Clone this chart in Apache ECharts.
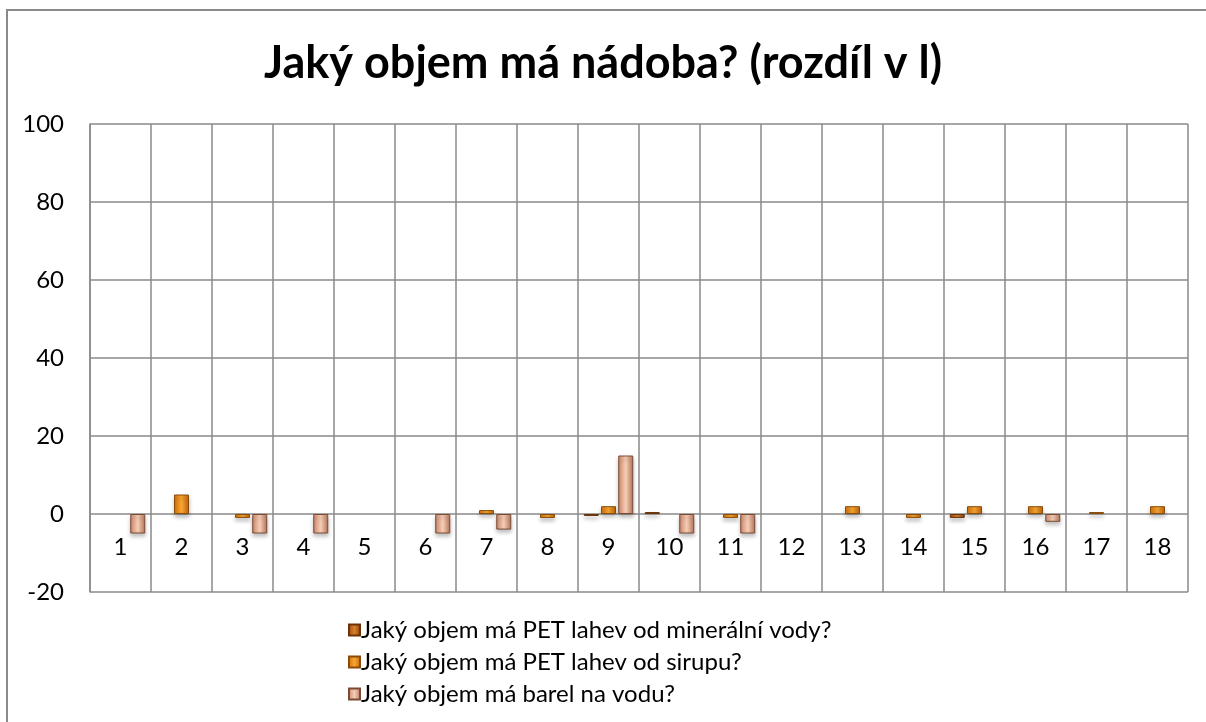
<!DOCTYPE html>
<html>
<head>
<meta charset="utf-8">
<script src="https://cdn.jsdelivr.net/npm/echarts@6/dist/echarts.min.js"></script>
<style>
    html, body { margin: 0; padding: 0; background: #fff; }
    #chart { width: 1206px; height: 722px; }
</style>
</head>
<body>
<div id="chart"></div>
<script>
    // data (null = no bar drawn)
    var categories = ['1','2','3','4','5','6','7','8','9','10','11','12','13','14','15','16','17','18']
    var mineralka = [null, null, null, null, null, null, null, null, -0.5, 0.5, null, null, null, null, -1, null, null, null]
    var sirup = [null, 5, -1, null, null, null, 1, -1, 2, null, -1, null, 2, -1, 2, 2, 0.5, 2]
    var barel = [-5, null, -5, -5, null, -5, -4, null, 15, -5, -5, null, null, null, null, -2, null, null]
    var yTicks = { min: -20, max: 100, interval: 20 }
    var names = [
        'Jaký objem má PET lahev od minerální vody?',
        'Jaký objem má PET lahev od sirupu?',
        'Jaký objem má barel na vodu?'
    ]

    var font = 'Lato, "Open Sans", sans-serif'

    function grad(edge, mid, edge2) {
        return new echarts.graphic.LinearGradient(0, 0, 1, 0, [
            { offset: 0, color: edge },
            { offset: 0.5, color: mid },
            { offset: 1, color: edge2 }
        ])
    }

    function barSeries(name, data, fill, border) {
        return {
            name: name,
            type: 'bar',
            data: data,
            barWidth: 15,
            barGap: '15%',
            itemStyle: {
                color: fill,
                borderColor: border,
                borderWidth: 1,
                shadowBlur: 4,
                shadowOffsetY: 3,
                shadowColor: 'rgba(0,0,0,0.25)'
            }
        }
    }

    var chart = echarts.init(document.getElementById('chart'))
    var option = {
        animation: false,
        textStyle: { fontFamily: font },
        title: {
            text: 'Jaký objem má nádoba? (rozdíl v l)',
            left: 'center',
            top: 36,
            textStyle: { fontFamily: font, fontSize: 45, fontWeight: 'bold', color: '#000' }
        },
        graphic: [{
            type: 'rect',
            shape: { x: 7, y: 10, width: 1220, height: 730 },
            style: { fill: 'none', stroke: '#8a8a8a', lineWidth: 2 },
            silent: true
        }],
        legend: {
            orient: 'vertical',
            left: 343,
            top: 613,
            itemWidth: 11,
            itemHeight: 11,
            itemGap: 8,
            icon: 'rect',
            textStyle: { fontFamily: font, fontSize: 24, color: '#000', padding: [0, 0, 0, -4] },
            data: names
        },
        grid: { left: 90, right: 18, top: 124, bottom: 130 },
        xAxis: {
            type: 'category',
            data: categories,
            offset: -78,
            axisLine: { onZero: false, show: false },
            axisTick: { show: false },
            axisLabel: { fontFamily: font, fontSize: 24, color: '#000', margin: 21 },
            splitLine: { show: true, lineStyle: { color: '#8a8a8a', width: 1.5 } }
        },
        yAxis: {
            type: 'value',
            min: yTicks.min,
            max: yTicks.max,
            interval: yTicks.interval,
            axisLine: { show: true, lineStyle: { color: '#8a8a8a', width: 1.5 } },
            axisTick: { show: false },
            axisLabel: { fontFamily: font, fontSize: 24, color: '#000', margin: 26 },
            splitLine: { show: true, lineStyle: { color: '#8a8a8a', width: 1.5 } }
        },
        series: [
            barSeries(names[0], mineralka, grad('#9c4a10', '#d9802c', '#8a3f0c'), '#6b3208'),
            barSeries(names[1], sirup, grad('#d4700a', '#f7a632', '#c0630a'), '#8a4a08'),
            barSeries(names[2], barel, grad('#cf8a6c', '#f6cdb6', '#b8785c'), '#7a4a34')
        ],
        color: ['#c4661c', '#ee8f16', '#e5a78a']
    }
    chart.setOption(option)
</script>
</body>
</html>
